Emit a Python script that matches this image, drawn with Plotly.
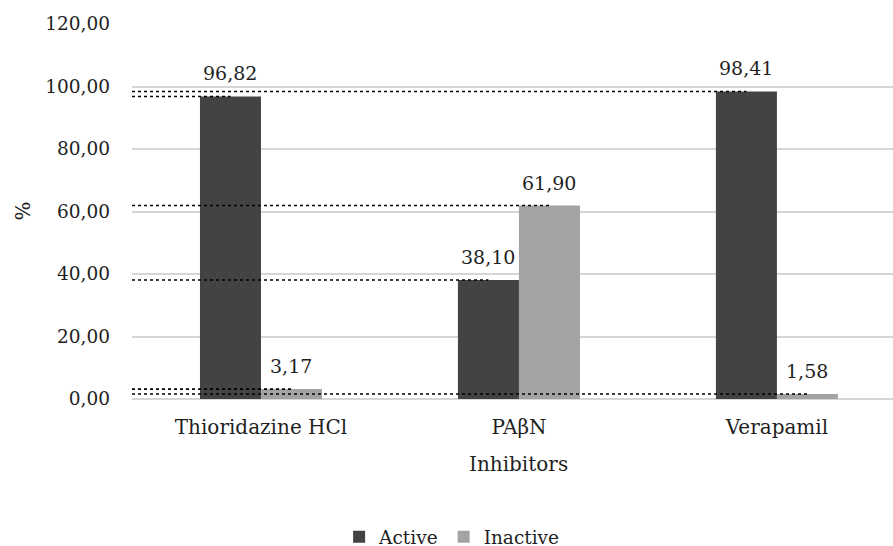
import plotly.graph_objects as go

categories = ["Thioridazine HCl", "PAβN", "Verapamil"]
active = [96.82, 38.10, 98.41]
inactive = [3.17, 61.90, 1.58]
series_names = ["Active", "Inactive"]
y_ticks = [0, 20, 40, 60, 80, 100, 120]

colors = ["#434343", "#a3a3a3"]
FONT = "DejaVu Serif"
TXT = "#1f1f1f"
BARGAP = 0.527
bw = (1 - BARGAP) / 2

xs = list(range(len(categories)))
fig = go.Figure()
for name, vals, col in zip(series_names, [active, inactive], colors):
    fig.add_trace(go.Bar(x=xs, y=vals, name=name, marker=dict(color=col, line=dict(width=0))))

shapes = []
annotations = []
for k, vals in enumerate([active, inactive]):
    off = (-bw / 2) if k == 0 else (bw / 2)
    for i, v in enumerate(vals):
        cx = xs[i] + off
        shapes.append(dict(type="line", xref="x", yref="y", x0=-0.5, x1=cx, y0=v, y1=v,
                           line=dict(color="black", width=1.6, dash="dot"), layer="above"))
        annotations.append(dict(x=cx, y=v, xref="x", yref="y", text=f"{v:.2f}".replace(".", ","),
                                showarrow=False, yanchor="middle", yshift=23,
                                font=dict(family=FONT, size=19, color=TXT)))

annotations.append(dict(x=-0.1445, y=0.5, xref="paper", yref="paper", text="%", textangle=-90,
                        xanchor="center", yanchor="middle",
                        showarrow=False, font=dict(family=FONT, size=20, color=TXT)))
annotations.append(dict(x=1, y=-0.1733, xref="x", yref="paper", text="Inhibitors",
                        showarrow=False, xanchor="center", yanchor="middle",
                        font=dict(family=FONT, size=20, color=TXT)))

fig.update_layout(
    width=893, height=546, autosize=False,
    margin=dict(l=132, r=0, t=24, b=147),
    plot_bgcolor="white", paper_bgcolor="white",
    barmode="group", bargap=BARGAP, bargroupgap=0,
    separators=", ",
    font=dict(family=FONT, size=19, color=TXT),
    shapes=shapes, annotations=annotations,
    legend=dict(orientation="h", xref="paper", x=0.42, xanchor="center",
                yref="container", y=0.016, yanchor="middle",
                font=dict(family=FONT, size=18.5, color=TXT), itemwidth=30, traceorder="normal"),
    showlegend=True,
)
fig.update_xaxes(range=[-0.5, 2.45], tickvals=xs, ticktext=categories, showgrid=False,
                 zeroline=False, showline=False, ticks="", ticklabelstandoff=14,
                 tickfont=dict(family=FONT, size=20, color=TXT))
fig.update_yaxes(range=[0, 120], tickvals=y_ticks, tickformat=".2f", showgrid=True,
                 gridcolor="#d6d6d6", gridwidth=1.5, zeroline=True, zerolinecolor="#d6d6d6",
                 zerolinewidth=1.5, showline=False, ticks="", ticklabelstandoff=21,
                 tickfont=dict(family=FONT, size=18.5, color=TXT))

fig.write_html("out.html", post_script="document.body.style.margin='0';",
               config={"displayModeBar": False, "responsive": False})
